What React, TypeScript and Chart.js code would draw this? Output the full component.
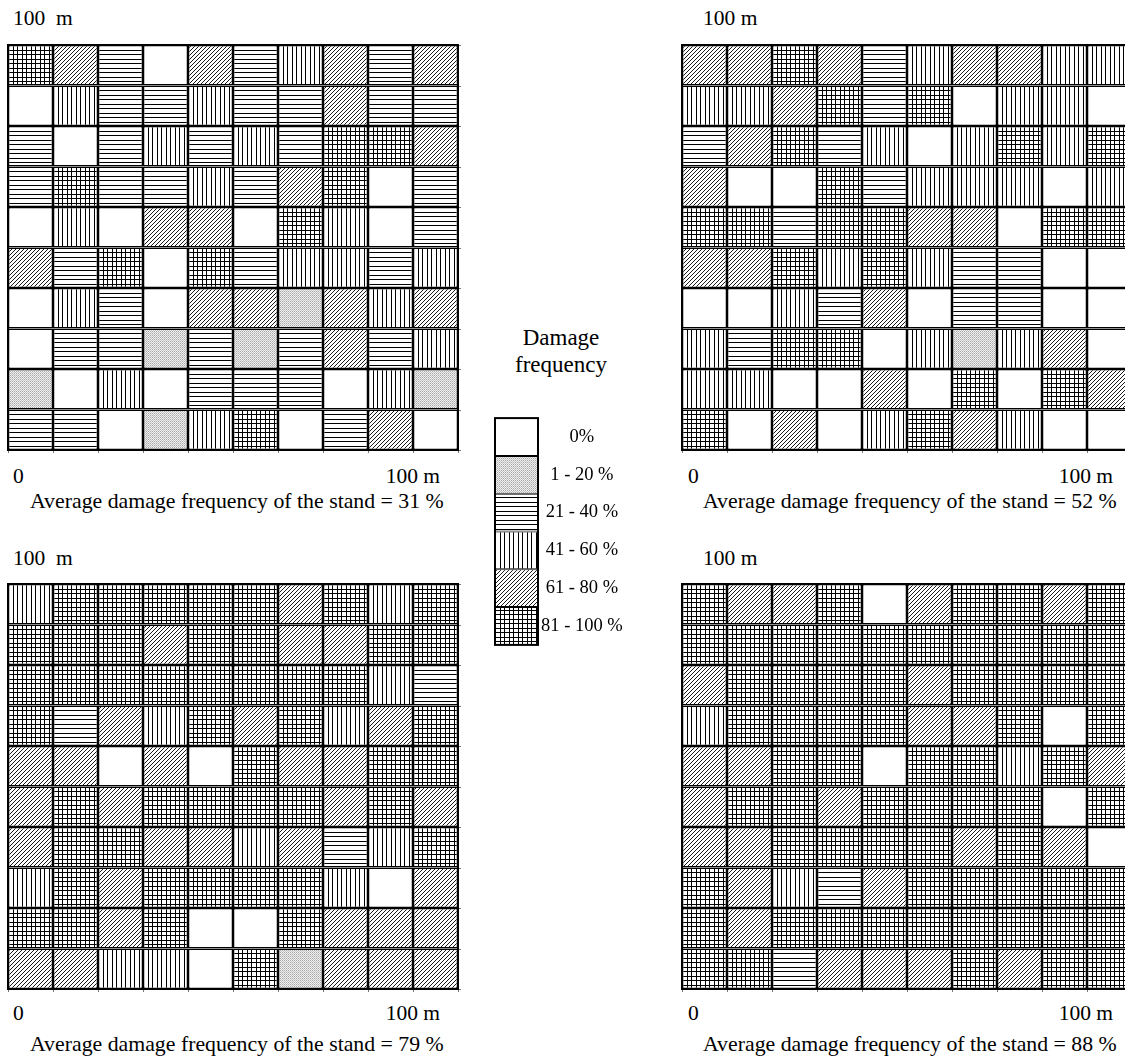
import React, { useEffect, useRef } from 'react';
import { Chart, registerables } from 'chart.js';

Chart.register(...registerables);

// Damage classes: 0 = 0%, 1 = 1-20 %, 2 = 21-40 %, 3 = 41-60 %, 4 = 61-80 %, 5 = 81-100 %
const LEGEND_LABELS = ['0%', '1 - 20 %', '21 - 40 %', '41 - 60 %', '61 - 80 %', '81 - 100 %'];
const COLUMN_LABELS = ['0-10', '10-20', '20-30', '30-40', '40-50', '50-60', '60-70', '70-80', '80-90', '90-100'];
const CELL_SIZE_M = 10;
const STAND_AVERAGES = [31, 52, 79, 88];

// rows listed from the top (100 m) to the bottom (0)
const STAND_1 = [
  [5, 4, 2, 0, 4, 2, 3, 4, 2, 4],
  [0, 3, 2, 2, 3, 2, 2, 4, 2, 2],
  [2, 0, 2, 3, 2, 3, 2, 5, 5, 4],
  [2, 5, 2, 2, 3, 2, 4, 5, 0, 2],
  [0, 3, 0, 4, 4, 0, 5, 3, 0, 2],
  [4, 2, 5, 0, 5, 2, 3, 3, 2, 3],
  [0, 3, 2, 0, 4, 4, 1, 4, 3, 4],
  [0, 2, 2, 1, 2, 1, 2, 4, 2, 3],
  [1, 0, 3, 0, 2, 2, 2, 0, 3, 1],
  [2, 2, 0, 1, 3, 5, 0, 2, 4, 0],
];
const STAND_2 = [
  [4, 4, 5, 4, 2, 3, 4, 4, 3, 3],
  [3, 3, 4, 5, 2, 5, 0, 3, 3, 0],
  [2, 4, 5, 2, 3, 0, 3, 5, 3, 5],
  [4, 0, 0, 5, 2, 3, 3, 3, 0, 3],
  [5, 5, 2, 5, 5, 4, 4, 0, 5, 5],
  [4, 4, 5, 3, 5, 3, 2, 2, 0, 0],
  [0, 0, 3, 2, 4, 0, 2, 2, 0, 0],
  [3, 2, 5, 5, 0, 3, 1, 3, 4, 0],
  [3, 3, 0, 0, 4, 0, 5, 0, 5, 4],
  [5, 0, 4, 0, 3, 5, 4, 3, 0, 0],
];
const STAND_3 = [
  [3, 5, 5, 5, 5, 5, 4, 5, 3, 5],
  [5, 5, 5, 4, 5, 5, 4, 4, 5, 5],
  [5, 5, 5, 5, 5, 5, 5, 5, 3, 2],
  [5, 2, 4, 3, 5, 4, 5, 3, 4, 5],
  [4, 4, 0, 4, 0, 5, 4, 4, 5, 5],
  [4, 5, 4, 5, 5, 5, 5, 4, 5, 4],
  [4, 5, 5, 4, 4, 3, 4, 2, 3, 5],
  [3, 5, 4, 5, 5, 5, 5, 3, 0, 4],
  [5, 5, 4, 5, 0, 0, 5, 4, 4, 4],
  [4, 4, 3, 3, 0, 5, 1, 4, 4, 4],
];
const STAND_4 = [
  [5, 4, 4, 5, 0, 4, 5, 5, 4, 5],
  [5, 5, 5, 5, 5, 5, 5, 5, 5, 5],
  [4, 5, 5, 5, 5, 4, 5, 5, 5, 5],
  [3, 5, 5, 5, 5, 4, 4, 5, 0, 5],
  [4, 4, 5, 5, 0, 5, 5, 3, 5, 4],
  [4, 5, 5, 4, 5, 5, 5, 5, 0, 5],
  [4, 4, 5, 5, 5, 5, 4, 5, 4, 0],
  [5, 4, 3, 2, 4, 5, 5, 5, 5, 5],
  [5, 4, 5, 5, 5, 5, 5, 5, 5, 5],
  [5, 5, 2, 4, 4, 4, 5, 4, 5, 5],
];

const FONT = '"Liberation Serif", "Times New Roman", serif';
const GRID_W = 450;
const GRID_H = 405;
const PAD = 4;

let patternCache: (CanvasPattern | string)[] | null = null;
function getPatterns(): (CanvasPattern | string)[] {
  if (patternCache) return patternCache;
  const make = (w: number, h: number, draw: (ctx: CanvasRenderingContext2D) => void) => {
    const c = document.createElement('canvas');
    c.width = w;
    c.height = h;
    const ctx = c.getContext('2d')!;
    ctx.fillStyle = '#ffffff';
    ctx.fillRect(0, 0, w, h);
    draw(ctx);
    return ctx.createPattern(c, 'repeat') as CanvasPattern;
  };
  const dotted = make(2, 2, (ctx) => {
    ctx.fillStyle = '#efefef';
    ctx.fillRect(0, 0, 2, 2);
    ctx.fillStyle = '#a8a8a8';
    ctx.fillRect(0, 0, 1, 1);
    ctx.fillStyle = '#c6c6c6';
    ctx.fillRect(1, 1, 1, 1);
  });
  const horizontal = make(9, 9, (ctx) => {
    ctx.fillStyle = '#000';
    ctx.fillRect(0, 0, 9, 1);
    ctx.fillRect(0, 4, 9, 1);
  });
  const vertical = make(9, 9, (ctx) => {
    ctx.fillStyle = '#000';
    ctx.fillRect(0, 0, 1, 9);
    ctx.fillRect(4, 0, 1, 9);
  });
  const diagonal = make(4, 4, (ctx) => {
    ctx.fillStyle = '#1a1a1a';
    ctx.fillRect(3, 0, 1, 1);
    ctx.fillRect(2, 1, 1, 1);
    ctx.fillRect(1, 2, 1, 1);
    ctx.fillRect(0, 3, 1, 1);
  });
  const cross = make(9, 9, (ctx) => {
    ctx.fillStyle = '#000';
    ctx.fillRect(0, 0, 1, 9);
    ctx.fillRect(4, 0, 1, 9);
    ctx.fillRect(0, 0, 9, 1);
    ctx.fillRect(0, 4, 9, 1);
  });
  patternCache = ['#ffffff', dotted, horizontal, vertical, diagonal, cross];
  return patternCache;
}

const framePlugin = {
  id: 'frame',
  afterDatasetsDraw(chart: any, _args: any, opts: any) {
    const { ctx, chartArea: a, scales } = chart;
    ctx.save();
    if (opts.ticks) {
      ctx.strokeStyle = '#777';
      ctx.lineWidth = 1;
      const ys = scales.y;
      ctx.beginPath();
      ys.ticks.forEach((t: any) => {
        const py = Math.round(ys.getPixelForValue(t.value)) + 0.5;
        ctx.moveTo(a.right, py);
        ctx.lineTo(a.right + 3, py);
      });
      const xs = scales.x;
      const n = xs.ticks.length;
      const half = (xs.getPixelForTick(1) - xs.getPixelForTick(0)) / 2;
      for (let i = 0; i <= n; i++) {
        const px = Math.round(i < n ? xs.getPixelForTick(i) - half : xs.getPixelForTick(n - 1) + half) + 0.5;
        ctx.moveTo(px, a.bottom);
        ctx.lineTo(px, a.bottom + 3);
      }
      ctx.stroke();
    }
    ctx.strokeStyle = '#000';
    ctx.lineWidth = opts.lineWidth || 2;
    ctx.strokeRect(a.left, a.top, a.width, a.height);
    ctx.restore();
  },
};

function GridChart({ rows, left, top }: { rows: number[][]; left: number; top: number }) {
  const ref = useRef<HTMLCanvasElement>(null);
  useEffect(() => {
    const patterns = getPatterns();
    const chart = new Chart(ref.current!, {
      type: 'bar',
      data: {
        labels: COLUMN_LABELS,
        datasets: rows.map((row, r) => ({
          label: `row ${r + 1}`,
          data: row.map(() => CELL_SIZE_M),
          backgroundColor: row.map((c) => patterns[c]),
          borderColor: '#000',
          borderWidth: 1.5,
          borderSkipped: false,
          inflateAmount: 0,
          barPercentage: 1,
          categoryPercentage: 1,
        })),
      },
      options: {
        responsive: false,
        animation: false,
        devicePixelRatio: 1,
        layout: { padding: PAD },
        scales: {
          x: { display: false, stacked: true },
          y: { display: false, stacked: true, min: 0, max: 100, reverse: true, ticks: { stepSize: 10 } },
        },
        plugins: {
          legend: { display: false },
          tooltip: { enabled: false },
          frame: { ticks: true, lineWidth: 2 },
        } as any,
      },
      plugins: [framePlugin],
    } as any);
    return () => chart.destroy();
  }, [rows]);
  const w = GRID_W + 2 * PAD;
  const h = GRID_H + 2 * PAD;
  return (
    <canvas
      ref={ref}
      width={w}
      height={h}
      style={{ position: 'absolute', left: left - PAD, top: top - PAD, width: w, height: h }}
    />
  );
}

const LEG_LEFT = 495;
const LEG_TOP = 416;
const LEG_W = 43;
const LEG_H = 231;
const LEG_AXIS = 100;

function LegendChart() {
  const ref = useRef<HTMLCanvasElement>(null);
  useEffect(() => {
    const patterns = getPatterns();
    const chart = new Chart(ref.current!, {
      type: 'bar',
      data: {
        labels: LEGEND_LABELS,
        datasets: [
          {
            label: 'Damage frequency',
            data: LEGEND_LABELS.map(() => 1),
            backgroundColor: LEGEND_LABELS.map((_, i) => patterns[i]),
            borderColor: '#000',
            borderWidth: 1,
            borderSkipped: false,
            inflateAmount: 0,
            barPercentage: 1,
            categoryPercentage: 1,
          },
        ],
      },
      options: {
        indexAxis: 'y',
        responsive: false,
        animation: false,
        devicePixelRatio: 1,
        layout: { padding: PAD },
        scales: {
          x: { display: false, min: 0, max: 1 },
          y: {
            position: 'right',
            grid: { display: false },
            border: { display: false },
            ticks: {
              color: '#000',
              font: { family: FONT, size: 18.5 },
              crossAlign: 'center',
              padding: -5,
            },
            afterFit: (s: any) => {
              s.width = LEG_AXIS;
            },
          },
        },
        plugins: {
          legend: { display: false },
          tooltip: { enabled: false },
          frame: { ticks: false, lineWidth: 2 },
        } as any,
      },
      plugins: [framePlugin],
    } as any);
    return () => chart.destroy();
  }, []);
  const w = LEG_W + LEG_AXIS + 2 * PAD;
  const h = LEG_H + 2 * PAD;
  return (
    <canvas
      ref={ref}
      width={w}
      height={h}
      style={{ position: 'absolute', left: LEG_LEFT - PAD, top: LEG_TOP - PAD, width: w, height: h }}
    />
  );
}

function Label({
  x,
  baseline,
  size = 21.5,
  align = 'left',
  children,
}: {
  x: number;
  baseline: number;
  size?: number;
  align?: 'left' | 'center' | 'right';
  children: React.ReactNode;
}) {
  const style: React.CSSProperties = {
    position: 'absolute',
    top: baseline - 0.8375 * size,
    fontFamily: FONT,
    fontSize: size,
    lineHeight: `${size}px`,
    color: '#000',
    whiteSpace: 'pre',
  };
  if (align === 'left') style.left = x;
  else if (align === 'right') style.right = 1125 - x;
  else {
    style.left = x;
    style.transform = 'translateX(-50%)';
  }
  return <div style={style}>{children}</div>;
}

const AVG_SIZE = 21.8;
const avgText = (v: number) => `Average damage frequency of the stand = ${v} %`;

export default function App() {
  return (
    <div
      style={{
        position: 'absolute',
        left: 0,
        top: 0,
        width: 1125,
        height: 1062,
        overflow: 'hidden',
        background: '#fff',
      }}
    >
      {/* top-left stand */}
      <Label x={13} baseline={26}>{'100  m'}</Label>
      <GridChart rows={STAND_1} left={8} top={45} />
      <Label x={13} baseline={484}>0</Label>
      <Label x={440} baseline={484} align="right">100 m</Label>
      <Label x={30} baseline={509} size={AVG_SIZE}>{avgText(STAND_AVERAGES[0])}</Label>

      {/* top-right stand */}
      <Label x={703} baseline={26}>100 m</Label>
      <GridChart rows={STAND_2} left={682} top={45} />
      <Label x={688} baseline={484}>0</Label>
      <Label x={1113} baseline={484} align="right">100 m</Label>
      <Label x={703} baseline={509} size={AVG_SIZE}>{avgText(STAND_AVERAGES[1])}</Label>

      {/* bottom-left stand */}
      <Label x={13} baseline={566}>{'100  m'}</Label>
      <GridChart rows={STAND_3} left={8} top={584} />
      <Label x={13} baseline={1021}>0</Label>
      <Label x={440} baseline={1021} align="right">100 m</Label>
      <Label x={30} baseline={1052} size={AVG_SIZE}>{avgText(STAND_AVERAGES[2])}</Label>

      {/* bottom-right stand */}
      <Label x={703} baseline={566}>100 m</Label>
      <GridChart rows={STAND_4} left={682} top={584} />
      <Label x={688} baseline={1021}>0</Label>
      <Label x={1113} baseline={1021} align="right">100 m</Label>
      <Label x={703} baseline={1052} size={AVG_SIZE}>{avgText(STAND_AVERAGES[3])}</Label>

      {/* legend */}
      <Label x={561} baseline={345} size={23} align="center">Damage</Label>
      <Label x={561} baseline={372} size={23} align="center">frequency</Label>
      <LegendChart />
    </div>
  );
}
